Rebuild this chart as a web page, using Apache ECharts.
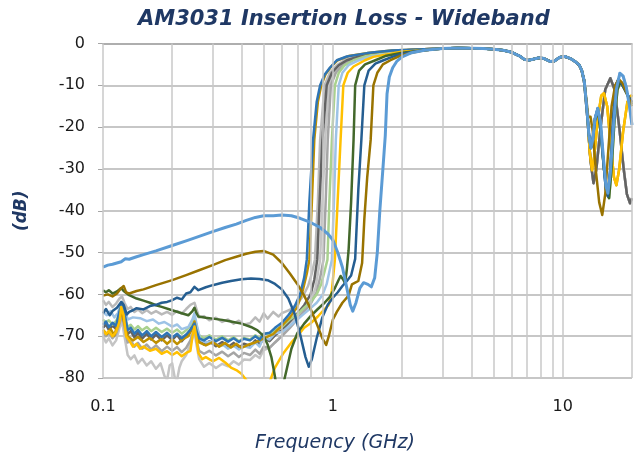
<!DOCTYPE html>
<html>
<head>
<meta charset="utf-8">
<script src="https://cdn.jsdelivr.net/npm/echarts@6/dist/echarts.min.js"></script>
<style>html,body{margin:0;padding:0;background:#fff}#c{width:635px;height:456px}</style>
</head>
<body>
<div id="c"></div>
<script>
// ---- axis ticks ----
const xLabelValues = [0.1, 1, 10];
const xTickValues = [0.1,0.2,0.3,0.4,0.5,0.6,0.7,0.8,0.9,1,2,3,4,5,6,7,8,9,10,20];
const yTicks = [0,-10,-20,-30,-40,-50,-60,-70,-80];

// ---- shared passband (GHz, dB) ----
const passband = [[3,-1.2],[3.5,-1.1],[4,-1.15],[4.5,-1.2],[5,-1.35],[5.5,-1.6],[6,-2.1],[6.5,-3.0],[6.8,-3.8],[7.1,-4.0],[7.5,-3.7],[7.9,-3.4],[8.3,-3.6],[8.8,-4.3],[9.2,-4.2],[9.7,-3.3],[10.2,-3.1],[10.8,-3.6],[11.3,-4.3],[11.8,-5.2],[12.1,-6.5]];

// ---- high-frequency behaviours ----
const hfLB = [[12.4,-9],[12.7,-15],[13.0,-22],[13.25,-25],[13.5,-23],[13.8,-18],[14.2,-15.5],[14.6,-19],[15.0,-27],[15.4,-34],[15.7,-35.8],[16.1,-31],[16.6,-20],[17.1,-11],[17.7,-7.1],[18.3,-7.8],[18.9,-10.5],[19.5,-15],[20,-19.5]];
const hfDB = [[12.4,-9],[12.7,-15],[13.0,-22],[13.25,-25],[13.5,-23],[13.8,-18],[14.2,-15.5],[14.6,-20],[15.0,-28],[15.4,-35],[15.7,-36.5],[16.1,-30],[16.6,-17],[17.0,-10],[17.4,-8.7],[18.0,-9.5],[18.8,-11.5],[20,-14]];
const hfDG = [[12.4,-9],[12.7,-14],[12.9,-17.6],[13.2,-17.5],[13.5,-21],[13.9,-30],[14.4,-38],[14.85,-41],[15.3,-36],[15.8,-25],[16.3,-15],[16.9,-10],[17.5,-8.5],[18.2,-9.5],[19,-12],[20,-15]];
const hfY = [[12.4,-9],[12.8,-17],[13.1,-26],[13.4,-30.3],[13.7,-27],[14.2,-18],[14.7,-12.5],[15.1,-11.9],[15.6,-15],[16.2,-25],[16.7,-32],[17.1,-33.9],[17.6,-30],[18.3,-21],[19.1,-14],[20,-12.3]];
const hfG = [[12.4,-9.5],[12.8,-18],[13.2,-28],[13.6,-33.4],[14.0,-30],[14.6,-20],[15.3,-11],[16.1,-8.3],[16.8,-11],[17.6,-20],[18.4,-30],[19.0,-36],[19.6,-38.2],[20,-37]];
const hfDGr = [[12.4,-9],[12.7,-15],[13.0,-22],[13.25,-25],[13.5,-23],[13.8,-18.5],[14.2,-16],[14.6,-21],[15.1,-30],[15.6,-36],[15.9,-37],[16.3,-30],[16.8,-18],[17.3,-11],[17.8,-9.2],[18.6,-11],[20,-14.5]];

// ---- low-frequency + transition per state ----
const lowGLow = [[0.1,-70],[0.103,-71.5],[0.106,-70.5],[0.11,-72.2],[0.114,-71],[0.118,-68],[0.121,-66.5],[0.124,-70],[0.128,-74.5],[0.132,-75.5],[0.137,-74.6],[0.142,-76.5],[0.148,-75.4],[0.155,-77],[0.162,-76],[0.17,-77.8],[0.178,-76.5],[0.185,-79.5],[0.19,-80.5],[0.195,-77],[0.2,-76.5],[0.205,-79.8],[0.21,-80.5],[0.215,-77.5],[0.22,-76],[0.23,-74.5],[0.24,-72],[0.25,-69],[0.255,-72],[0.262,-75.5],[0.275,-77.3],[0.29,-76.4],[0.31,-77.6],[0.33,-76.6],[0.35,-77.2],[0.37,-76],[0.39,-76.8],[0.41,-75.6],[0.436,-75.7],[0.46,-74.5],[0.48,-75.2],[0.5,-73.3],[0.53,-72.8],[0.56,-71.5],[0.6,-69.8],[0.65,-67.5],[0.7,-65.5],[0.75,-63.5],[0.8,-61.5],[0.84,-58.5],[0.88,-51.7],[0.9,-38],[0.925,-23],[0.96,-10],[1.01,-7],[1.08,-5.2],[1.17,-4],[1.35,-3],[1.62,-2.2],[2.0,-1.7],[2.5,-1.4]];
const lowGMid = [[0.1,-69],[0.103,-70],[0.106,-69.2],[0.11,-70.5],[0.114,-69.5],[0.118,-67],[0.121,-65],[0.124,-68],[0.128,-71.5],[0.132,-71],[0.137,-72.5],[0.142,-71.6],[0.148,-73],[0.155,-72],[0.162,-73.2],[0.17,-72.2],[0.18,-73.6],[0.19,-72.5],[0.2,-73.5],[0.21,-72.6],[0.22,-73.8],[0.23,-72.8],[0.24,-71],[0.25,-68],[0.255,-71],[0.262,-73.5],[0.275,-74.2],[0.29,-73.5],[0.31,-74.6],[0.33,-73.7],[0.35,-74.8],[0.37,-73.9],[0.39,-75],[0.41,-74],[0.436,-74.5],[0.46,-73.2],[0.48,-74.2],[0.5,-72.5],[0.53,-72.8],[0.56,-71.5],[0.6,-70],[0.65,-68],[0.7,-66],[0.75,-64],[0.8,-62.3],[0.85,-59.5],[0.88,-56],[0.91,-51.7],[0.93,-38],[0.95,-23],[0.98,-10],[1.03,-7],[1.1,-5.2],[1.2,-4],[1.38,-3],[1.65,-2.2],[2.0,-1.7],[2.5,-1.4]];
const lowGUp = [[0.1,-61.4],[0.103,-62.5],[0.106,-61.8],[0.11,-63],[0.114,-62.2],[0.118,-61],[0.121,-60.5],[0.124,-62],[0.128,-63.5],[0.132,-63],[0.137,-64.2],[0.142,-63.6],[0.148,-64.5],[0.155,-63.8],[0.162,-64.6],[0.17,-64],[0.18,-64.8],[0.19,-64.2],[0.2,-64.9],[0.21,-64],[0.22,-64.6],[0.23,-63.5],[0.24,-62.5],[0.25,-62],[0.255,-63.5],[0.262,-65.5],[0.275,-65.2],[0.29,-66.2],[0.31,-65.6],[0.33,-66.6],[0.35,-66],[0.37,-67],[0.39,-66.3],[0.41,-67.2],[0.436,-66.9],[0.46,-65.5],[0.48,-66.5],[0.5,-64.5],[0.52,-65.8],[0.55,-64.2],[0.58,-65.3],[0.6,-64.5],[0.63,-64],[0.66,-63.5],[0.7,-62.2],[0.74,-60.5],[0.78,-58],[0.81,-55],[0.835,-51.7],[0.86,-38],[0.88,-23],[0.92,-10],[0.97,-7],[1.04,-5.2],[1.12,-4],[1.3,-3],[1.6,-2.2],[2.0,-1.7],[2.5,-1.4]];
const lowDGy = [[0.1,-68],[0.103,-67.2],[0.106,-68.5],[0.11,-67.5],[0.114,-68.2],[0.118,-65.5],[0.121,-63.5],[0.124,-66],[0.128,-69.5],[0.132,-68.8],[0.137,-70.3],[0.142,-69.2],[0.148,-70.6],[0.155,-69.4],[0.162,-70.8],[0.17,-69.6],[0.18,-71],[0.19,-69.8],[0.2,-70.9],[0.21,-69.7],[0.22,-71.2],[0.23,-70],[0.24,-68.5],[0.25,-66],[0.255,-68.5],[0.262,-71],[0.275,-72],[0.29,-71.2],[0.31,-72.4],[0.33,-71.4],[0.35,-72.6],[0.37,-71.6],[0.39,-72.8],[0.41,-71.8],[0.436,-72.3],[0.46,-71],[0.48,-72],[0.5,-70.5],[0.53,-71.2],[0.56,-69.8],[0.6,-68.5],[0.65,-66.5],[0.7,-64.6],[0.75,-62.6],[0.8,-60],[0.83,-56.5],[0.855,-51.7],[0.875,-38],[0.9,-23],[0.94,-10],[0.99,-7],[1.06,-5.2],[1.15,-4],[1.32,-3],[1.6,-2.2],[2.0,-1.7],[2.5,-1.4]];
const lowLG = [[0.1,-66],[0.103,-66.8],[0.106,-66.2],[0.11,-67.2],[0.114,-66.4],[0.118,-64.5],[0.121,-63],[0.124,-65],[0.128,-67.8],[0.132,-67.3],[0.137,-68.4],[0.142,-67.6],[0.148,-68.6],[0.155,-67.8],[0.162,-68.8],[0.17,-68],[0.18,-69],[0.19,-68.2],[0.2,-69.2],[0.21,-68.4],[0.22,-69.4],[0.23,-68.6],[0.24,-67.5],[0.25,-65.5],[0.255,-67.5],[0.262,-69.8],[0.275,-70.5],[0.29,-69.8],[0.31,-70.8],[0.33,-70],[0.35,-71],[0.37,-70.2],[0.39,-71.2],[0.41,-70.4],[0.436,-70.8],[0.46,-69.8],[0.48,-70.5],[0.5,-69.3],[0.53,-69.5],[0.56,-68.5],[0.6,-67.8],[0.65,-66],[0.7,-64.8],[0.75,-63.2],[0.8,-61.8],[0.85,-60],[0.89,-57.5],[0.92,-54.5],[0.947,-51.7],[0.965,-38],[0.99,-23],[1.02,-10],[1.06,-7],[1.12,-5.3],[1.23,-4],[1.4,-3],[1.8,-2],[2.5,-1.5]];
const lowLB2 = [[0.1,-64.2],[0.104,-65],[0.108,-64],[0.112,-65.5],[0.116,-64.5],[0.12,-62],[0.124,-63.5],[0.128,-66],[0.135,-65.5],[0.145,-65.7],[0.155,-66.4],[0.165,-66],[0.175,-67],[0.185,-66.6],[0.2,-67.7],[0.21,-67.2],[0.22,-68.3],[0.235,-67.8],[0.245,-66],[0.25,-64.5],[0.255,-67],[0.265,-70.9],[0.28,-71.5],[0.3,-71.2],[0.32,-72.4],[0.334,-72.1],[0.35,-73],[0.37,-72.3],[0.39,-73.2],[0.41,-72.4],[0.436,-72.8],[0.46,-71.5],[0.48,-72.5],[0.5,-70.1],[0.53,-70.8],[0.56,-69.3],[0.6,-69],[0.65,-67.5],[0.7,-66],[0.75,-64.6],[0.8,-63.3],[0.85,-62],[0.9,-60.2],[0.94,-57.5],[0.97,-54],[0.99,-51.7],[1.01,-38],[1.03,-23],[1.06,-10],[1.1,-7],[1.17,-5.2],[1.3,-4],[1.5,-3],[1.9,-2.1],[2.5,-1.6]];
const lowGold = [[0.1,-68.5],[0.104,-69.5],[0.108,-68.3],[0.112,-69.8],[0.116,-67],[0.12,-64],[0.124,-67],[0.128,-70],[0.135,-71],[0.142,-70.2],[0.15,-71.4],[0.16,-70.4],[0.17,-71.6],[0.18,-70.6],[0.19,-71.8],[0.2,-70.8],[0.21,-71.9],[0.22,-70.9],[0.235,-70],[0.245,-68],[0.25,-66.5],[0.255,-69],[0.262,-71.5],[0.28,-72.2],[0.3,-71.4],[0.32,-72.5],[0.34,-71.6],[0.36,-72.7],[0.38,-71.8],[0.4,-72.8],[0.43,-72],[0.46,-71.5],[0.5,-70.5],[0.55,-69.5],[0.6,-67.5],[0.65,-65.5],[0.7,-63],[0.74,-59],[0.77,-55],[0.79,-51.7],[0.81,-38],[0.83,-23],[0.86,-14],[0.89,-10],[0.93,-7.3],[0.98,-5.6],[1.05,-4],[1.17,-3],[1.45,-2.2],[1.8,-1.7],[2.5,-1.4]];
const lowMB = [[0.1,-67.3],[0.103,-66.5],[0.106,-67.8],[0.11,-66.8],[0.114,-67.5],[0.118,-64],[0.121,-62],[0.124,-64.5],[0.128,-68.5],[0.132,-68],[0.137,-69.4],[0.142,-68.5],[0.148,-69.8],[0.155,-68.8],[0.162,-70],[0.17,-69],[0.18,-70.2],[0.19,-69.2],[0.2,-70.3],[0.21,-69.4],[0.22,-70.5],[0.23,-69.6],[0.24,-68.5],[0.25,-67],[0.255,-68.8],[0.262,-70.5],[0.275,-71],[0.29,-70.2],[0.31,-71.2],[0.33,-70.4],[0.35,-71.3],[0.37,-70.5],[0.39,-71.4],[0.41,-70.6],[0.436,-71],[0.46,-70],[0.48,-70.8],[0.5,-69.5],[0.53,-69.2],[0.56,-68],[0.6,-66.8],[0.64,-65],[0.68,-63],[0.72,-60],[0.75,-56],[0.77,-51.7],[0.79,-38],[0.82,-23],[0.85,-14],[0.88,-10],[0.92,-7.5],[0.97,-5.8],[1.04,-4],[1.15,-3.1],[1.41,-2.3],[1.8,-1.7],[2.5,-1.4]];
const lowY = [[0.1,-68.5],[0.103,-69.5],[0.106,-68.8],[0.11,-70],[0.114,-69],[0.118,-66.5],[0.12,-63],[0.123,-65],[0.126,-70],[0.13,-71],[0.135,-72.5],[0.14,-71.8],[0.145,-73],[0.15,-72.5],[0.16,-73.5],[0.17,-73],[0.18,-74.2],[0.19,-73.6],[0.2,-74.5],[0.21,-73.8],[0.22,-74.8],[0.23,-74],[0.24,-73.5],[0.245,-70],[0.25,-67.7],[0.255,-70.5],[0.26,-74],[0.27,-75.5],[0.28,-75],[0.3,-76],[0.32,-75.2],[0.34,-76.3],[0.36,-77.5],[0.38,-78.1],[0.4,-79],[0.42,-80.5],[0.45,-84],[0.5,-85],[0.53,-81],[0.56,-77.5],[0.61,-74],[0.66,-71.5],[0.7,-70],[0.75,-68],[0.8,-66.9],[0.86,-65.3],[0.91,-63.8],[0.96,-62.5],[0.99,-59],[1.02,-51.7],[1.05,-37],[1.08,-23],[1.11,-10],[1.16,-7],[1.23,-5.5],[1.38,-4],[1.5,-3.2],[1.96,-2],[2.5,-1.6]];
const lowDGr = [[0.1,-59],[0.103,-59.5],[0.106,-59],[0.11,-59.8],[0.115,-59.3],[0.12,-58.5],[0.123,-59.2],[0.13,-60.2],[0.14,-61],[0.15,-61.5],[0.16,-62],[0.17,-62.6],[0.18,-63],[0.2,-63.8],[0.22,-64.5],[0.235,-65],[0.245,-64],[0.25,-63.2],[0.255,-64.5],[0.26,-65.3],[0.28,-65.6],[0.3,-65.8],[0.33,-66.1],[0.36,-66.5],[0.4,-67],[0.44,-67.8],[0.47,-68.6],[0.5,-70],[0.52,-72],[0.54,-75],[0.555,-78.5],[0.565,-81],[0.58,-85],[0.6,-83],[0.62,-79.5],[0.66,-73],[0.7,-69.3],[0.75,-67],[0.8,-65.2],[0.86,-63.5],[0.92,-62],[0.97,-60.6],[1.02,-58.5],[1.06,-56.5],[1.08,-55.6],[1.11,-56.5],[1.13,-57.4],[1.15,-54],[1.17,-49.5],[1.2,-38],[1.23,-23],[1.25,-10],[1.3,-6.5],[1.38,-5],[1.53,-4],[1.69,-3],[2.0,-2.2],[2.5,-1.6]];
const lowDB = [[0.1,-64.5],[0.103,-63.5],[0.107,-65],[0.11,-64],[0.115,-63.2],[0.12,-61.8],[0.123,-62.5],[0.127,-64.8],[0.13,-64.2],[0.135,-63.8],[0.14,-63.3],[0.15,-63.6],[0.16,-62.8],[0.17,-62.5],[0.18,-62],[0.19,-61.8],[0.2,-61.4],[0.21,-60.8],[0.22,-61.2],[0.23,-59.8],[0.24,-59.5],[0.25,-58.2],[0.255,-58.6],[0.26,-59],[0.28,-58.3],[0.3,-57.8],[0.33,-57.2],[0.36,-56.8],[0.4,-56.4],[0.44,-56.2],[0.48,-56.3],[0.52,-56.6],[0.56,-57.5],[0.6,-58.8],[0.64,-61],[0.68,-64.5],[0.72,-69.5],[0.76,-75],[0.785,-77.3],[0.81,-75.5],[0.85,-70.5],[0.9,-65.5],[0.95,-62.5],[1.0,-60.8],[1.05,-59.5],[1.1,-58],[1.15,-56.8],[1.2,-55.5],[1.25,-51.5],[1.29,-35],[1.33,-23],[1.37,-10],[1.43,-6.5],[1.53,-4.8],[1.66,-4],[1.85,-3],[2.1,-2.2],[2.5,-1.6]];
const lowDG = [[0.1,-60.3],[0.105,-60],[0.11,-60.5],[0.115,-59.8],[0.12,-58.5],[0.123,-58],[0.126,-59.5],[0.13,-59.8],[0.14,-59.2],[0.15,-58.8],[0.17,-57.8],[0.2,-56.6],[0.23,-55.4],[0.26,-54.3],[0.3,-53],[0.34,-51.8],[0.38,-51],[0.42,-50.3],[0.46,-49.8],[0.5,-49.6],[0.55,-50.5],[0.6,-52.5],[0.65,-55],[0.7,-57.5],[0.75,-60.3],[0.8,-63.5],[0.85,-67],[0.9,-70.5],[0.935,-72.1],[0.96,-70],[1.0,-66],[1.04,-64.2],[1.1,-62],[1.17,-60.3],[1.21,-57.6],[1.25,-57.2],[1.29,-56.8],[1.34,-52.5],[1.37,-42],[1.41,-32],[1.46,-23],[1.5,-10],[1.56,-7],[1.65,-5],[1.78,-4],[1.95,-3],[2.2,-2.2],[2.5,-1.6]];
const lowLB = [[0.1,-53.5],[0.105,-53],[0.11,-52.8],[0.12,-52.2],[0.125,-51.5],[0.13,-51.6],[0.14,-51],[0.15,-50.5],[0.17,-49.6],[0.2,-48.3],[0.23,-47.2],[0.26,-46.2],[0.3,-45],[0.34,-44],[0.38,-43.2],[0.42,-42.3],[0.46,-41.6],[0.5,-41.2],[0.55,-41.2],[0.6,-41],[0.66,-41.2],[0.72,-41.8],[0.8,-42.8],[0.88,-44],[0.95,-45.5],[1.0,-47],[1.05,-50],[1.1,-53.5],[1.15,-58.5],[1.19,-62.5],[1.22,-64],[1.26,-62],[1.31,-58.5],[1.36,-57.2],[1.42,-57.6],[1.47,-58.2],[1.52,-56],[1.56,-50],[1.6,-40],[1.65,-30],[1.69,-22],[1.72,-12],[1.76,-8],[1.82,-5.8],[1.9,-4.2],[2.0,-3.2],[2.2,-2.2],[2.5,-1.6]];

const states = [
  {name:'S13', color:'#C4C4C4', low:lowGLow, hf:hfG},
  {name:'S12', color:'#A5A5A5', low:lowGMid, hf:hfG},
  {name:'S11', color:'#BABABA', low:lowGUp, hf:hfG},
  {name:'S10', color:'#636363', low:lowDGy, hf:hfG},
  {name:'S9',  color:'#A9D18E', low:lowLG, hf:hfDGr},
  {name:'S8',  color:'#9DC3E6', low:lowLB2, hf:hfLB},
  {name:'S7',  color:'#BF9000', low:lowGold, hf:hfY},
  {name:'S6',  color:'#2E75B6', low:lowMB, hf:hfDB},
  {name:'S5',  color:'#FFC000', low:lowY, hf:hfY},
  {name:'S4',  color:'#43682B', low:lowDGr, hf:hfDGr},
  {name:'S3',  color:'#255E91', low:lowDB, hf:hfDB},
  {name:'S2',  color:'#997300', low:lowDG, hf:hfDG},
  {name:'S1',  color:'#5B9BD5', low:lowLB, hf:hfLB}
];

const navy = '#1F3864';
const chart = echarts.init(document.getElementById('c'), null, {renderer:'canvas'});

// vertical gridlines at 1-2-3...9 positions (drawn through the axis scale)
const gridSeries = {
  name:'grid', type:'line', data:[], z:1, clip:false, silent:true,
  markLine:{silent:true, symbol:['none','none'], animation:false, label:{show:false},
    lineStyle:{color:'#C8C8C8', type:'solid', width:1.5},
    data: xTickValues.map(v=>({xAxis:v}))
  }
};

chart.setOption({
  animation:false,
  backgroundColor:'#fff',
  title:[
    {text:'AM3031 Insertion Loss - Wideband', left:133, top:4,
      textStyle:{fontFamily:'DejaVu Sans', fontStyle:'italic', fontWeight:'bold', fontSize:21, color:navy}},
    {text:'Frequency (GHz)', left:250, top:429,
      textStyle:{fontFamily:'DejaVu Sans', fontStyle:'italic', fontWeight:'normal', fontSize:19, color:navy}}
  ],
  grid:{left:103, right:3, top:43.5, bottom:78},
  xAxis:{type:'log', logBase:10, min:0.1, max:20,
    axisLine:{show:true, lineStyle:{color:'#A6A6A6', width:1.5}},
    axisTick:{show:false},
    axisLabel:{customValues:xLabelValues, fontFamily:'DejaVu Sans', fontSize:16, color:'#1a1a1a', margin:21,
      formatter:v=>String(v)},
    splitLine:{show:false},
    minorTick:{show:false}, minorSplitLine:{show:false}
  },
  yAxis:{type:'value', min:-80, max:0, interval:10,
    name:'(dB)', nameLocation:'middle', nameGap:73, nameRotate:90,
    nameTextStyle:{fontFamily:'DejaVu Sans', fontStyle:'italic', fontWeight:'bold', fontSize:17, color:navy},
    axisLine:{show:false},
    axisTick:{show:true, length:5, lineStyle:{color:'#A6A6A6'}},
    axisLabel:{fontFamily:'DejaVu Sans', fontSize:16, color:'#1a1a1a', margin:18},
    splitLine:{show:true, lineStyle:{color:'#B4B4B4', width:1.5}}
  },
  series: [gridSeries].concat(states.map(s=>({
    name:s.name, type:'line', showSymbol:false, symbol:'none', z:2,
    data: s.low.concat(passband, s.hf),
    lineStyle:{color:s.color, width: s.name==='S1'?3:2.5, join:'round'},
    itemStyle:{color:s.color},
    clip:true
  })))
});
</script>
</body>
</html>
